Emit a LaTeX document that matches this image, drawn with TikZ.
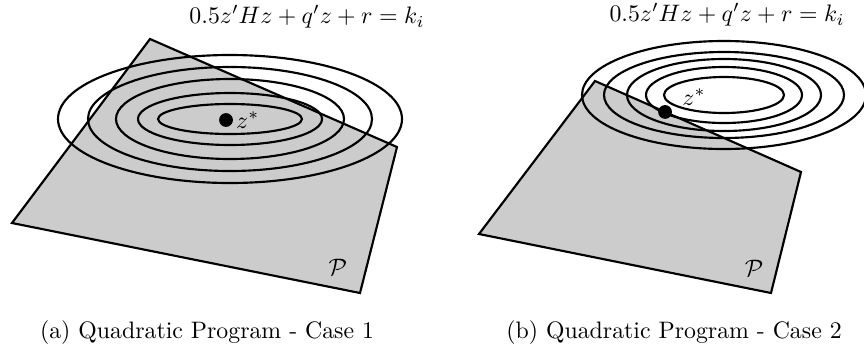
\documentclass[tikz,border=0pt]{standalone}
\usetikzlibrary{calc, positioning}

\begin{document}
\begin{tikzpicture}[
    x=0.42pt, y=-0.42pt,
    region/.style={fill=black!20, draw=black, line width=0.9pt},
    level/.style={draw=black, line width=0.9pt},
    optimum/.style={circle, fill=black, inner sep=0pt, minimum size=5.8pt},
    caption/.style={inner sep=0pt, anchor=base}
]
\useasboundingbox (0,0) rectangle (864,351);

% Fall 1: Optimum im Inneren des Polyeders
\coordinate (a1) at (150,39);
\coordinate (a2) at (397,147);
\coordinate (a3) at (360,293);
\coordinate (a4) at (12,223);
\coordinate (ca) at (230,119);
\filldraw[region] (a1) -- (a2) -- (a3) -- (a4) -- cycle;
\foreach \rx/\ry in {72/15, 92/26, 114/40, 142/52, 172/64}
    \draw[level] (ca) ellipse [x radius=\rx, y radius=\ry];
\node[optimum] (za) at (226,120) {};
\node[right=0pt of za, inner sep=1pt] (zalab) {$z^*$};
\node (eqa) at (307,17) {$0.5z'Hz+q'z+r=k_i$};
\node (pa) at (338,267) {$\mathcal{P}$};
\node[caption] (capa) at (207,338) {(a) Quadratic Program - Case 1};

% Fall 2: Optimum auf dem Rand
\coordinate (b1) at (595,81);
\coordinate (b2) at (801,172);
\coordinate (b3) at (771,293);
\coordinate (b4) at (479,234);
\coordinate (cb) at (724,95);
\filldraw[region] (b1) -- (b2) -- (b3) -- (b4) -- cycle;
\foreach \rx/\ry in {60/18, 78/28, 97/36, 120/43, 142/54}
    \draw[level] (cb) ellipse [x radius=\rx, y radius=\ry];
\node[optimum] (zb) at ($(b1)!0.34!(b2)$) {};
\node (zblab) at (694,97) {$z^*$};
\node (eqb) at (727,15) {$0.5z'Hz+q'z+r=k_i$};
\node (pb) at (754,268) {$\mathcal{P}$};
\node[caption] (capb) at (674,338) {(b) Quadratic Program - Case 2};
\end{tikzpicture}
\end{document}
